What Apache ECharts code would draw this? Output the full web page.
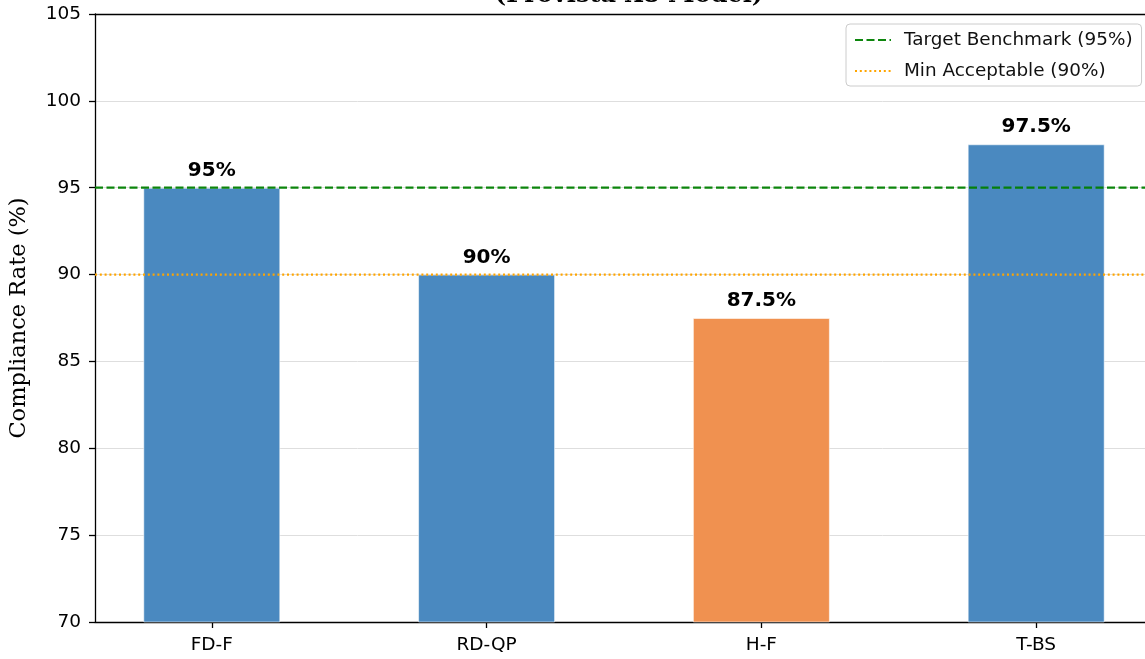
<!DOCTYPE html>
<html>
<head>
<meta charset="utf-8">
<script src="https://cdn.jsdelivr.net/npm/echarts@6/dist/echarts.min.js"></script>
<style>
  html, body { margin: 0; padding: 0; background: #fff; }
  #chart { width: 1145px; height: 659px; }
</style>
</head>
<body>
<div id="chart"></div>
<script>
// Compliance rate per checklist category
const categories = ['FD-F', 'RD-QP', 'H-F', 'T-BS'];
const rates = [95, 90, 87.5, 97.5];
const barColors = ['#4A89C0', '#4A89C0', '#F09150', '#4A89C0'];
const rateLabels = ['95%', '90%', '87.5%', '97.5%'];

// Reference thresholds
const targetBenchmark = 95;
const minAcceptable = 90;
const targetName = 'Target Benchmark (95%)';
const minName = 'Min Acceptable (90%)';

// Category positions on the x scale; the visible range stops just short
// of the right-hand frame, which falls outside the page
const positions = [0, 1, 2, 3];
const xMin = -0.425, xMax = 3.396;

const yTicks = [70, 75, 80, 85, 90, 95, 100, 105];

const chart = echarts.init(document.getElementById('chart'), null, { renderer: 'canvas' });

const sans = 'DejaVu Sans';
const serif = 'DejaVu Serif';
const spine = { color: '#000', width: 1.3 };

chart.setOption({
  animation: false,
  backgroundColor: '#ffffff',
  title: {
    text: '(Provista X8 Model)',
    left: 624,
    textAlign: 'center',
    top: -21,
    textStyle: { fontFamily: serif, fontWeight: 'bold', fontSize: 24, color: '#000' }
  },
  grid: { left: 95, top: 14, right: 0, bottom: 37 },
  legend: {
    orient: 'vertical',
    left: 846, top: 24,
    padding: [7, 9, 6, 8],
    itemWidth: 36, itemHeight: 14, itemGap: 13,
    backgroundColor: '#fff',
    borderColor: '#cccccc', borderWidth: 1, borderRadius: 4,
    itemStyle: { opacity: 0 },
    textStyle: { fontFamily: sans, fontSize: 18.4, color: '#111', padding: [0, 0, 0, 8] },
    data: [targetName, minName]
  },
  xAxis: [
    {
      type: 'value',
      min: xMin, max: xMax,
      splitLine: { show: false },
      axisLine: { show: true, onZero: false, lineStyle: spine },
      axisTick: { show: true, length: 6, customValues: positions, lineStyle: spine },
      axisLabel: {
        customValues: positions,
        formatter: v => categories[Math.round(v)] || '',
        fontFamily: sans, fontSize: 18.5, color: '#000', margin: 14
      }
    },
    {
      // top frame line
      type: 'value',
      position: 'top',
      min: xMin, max: xMax,
      splitLine: { show: false },
      axisLine: { show: true, onZero: false, lineStyle: spine },
      axisTick: { show: false },
      axisLabel: { show: false }
    }
  ],
  yAxis: {
    type: 'value',
    min: 70, max: 105, interval: 5,
    name: 'Compliance Rate (%)',
    nameLocation: 'middle',
    nameGap: 64,
    nameTextStyle: { fontFamily: serif, fontSize: 22.5, color: '#000' },
    axisLine: { show: true, onZero: false, lineStyle: spine },
    axisTick: { show: true, length: 6, lineStyle: spine },
    axisLabel: {
      fontFamily: sans, fontSize: 18.5, color: '#000', margin: 14,
      formatter: v => yTicks.includes(v) ? String(v) : ''
    },
    splitLine: { show: true, lineStyle: { color: '#dedede', width: 1 } }
  },
  series: [
    {
      type: 'bar',
      name: 'Compliance',
      barWidth: 137,
      z: 2,
      data: positions.map((p, i) => ({
        value: [p, rates[i]],
        itemStyle: { color: barColors[i], borderColor: 'rgba(255,255,255,0.55)', borderWidth: 1 },
        label: { formatter: rateLabels[i] }
      })),
      label: {
        show: true, position: 'top', distance: 7,
        fontFamily: sans, fontWeight: 'bold', fontSize: 20, color: '#000'
      }
    },
    {
      type: 'line',
      name: targetName,
      symbol: 'none',
      z: 5,
      color: '#008000',
      lineStyle: { color: '#008000', width: 2.2, type: [8, 3.5], opacity: 0.95 },
      data: [[xMin, targetBenchmark], [xMax, targetBenchmark]]
    },
    {
      type: 'line',
      name: minName,
      symbol: 'none',
      z: 5,
      color: '#FFA500',
      lineStyle: { color: '#FFA500', width: 2.2, type: [2, 2.8], opacity: 1 },
      data: [[xMin, minAcceptable], [xMax, minAcceptable]]
    }
  ]
});
</script>
</body>
</html>
